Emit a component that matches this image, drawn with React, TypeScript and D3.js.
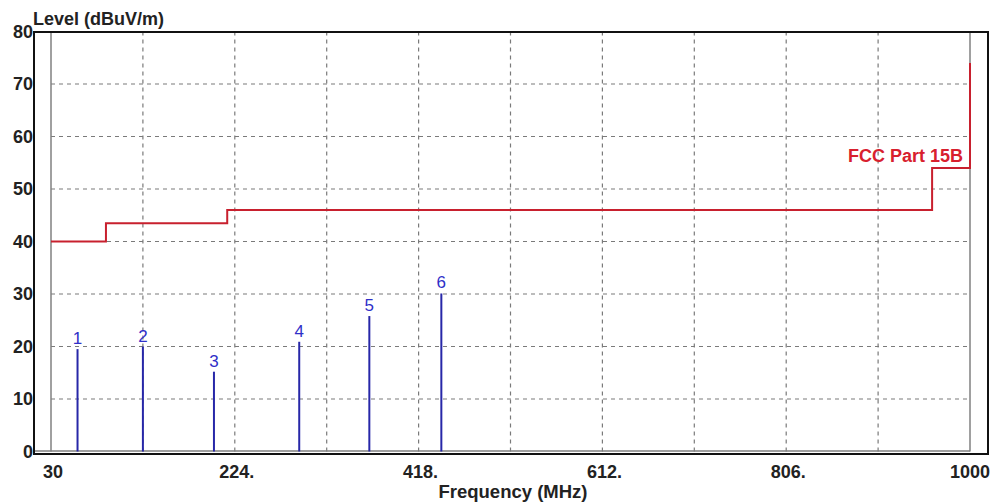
import React from "react";
import * as d3 from "d3";

// limit line (FCC Part 15B), steps as [startFreq, endFreq, level]
const limitSteps: [number, number, number][] = [
  [30, 88, 40],
  [88, 216, 43.5],
  [216, 960, 46],
  [960, 1000, 54],
];
const limitTop = 74;

// peaks found
const peakLabels = ["1", "2", "3", "4", "5", "6"];
const peakFreqs = [58, 127, 202, 292, 366, 442];
const peakLevels = [19.5, 20, 15.2, 20.9, 25.8, 30.1];

const xTickValues = [30, 224, 418, 612, 806, 1000];
const xTickLabels = ["30", "224.", "418.", "612.", "806.", "1000"];
const xGridValues = [127, 224, 321, 418, 515, 612, 709, 806, 903];
const yTickValues = [0, 10, 20, 30, 40, 50, 60, 70, 80];
const yGridValues = [10, 20, 30, 40, 50, 60, 70];

const W = 998;
const H = 502;

export default function App() {
  const x = d3.scaleLinear().domain([30, 1000]).range([51, 970]);
  const y = d3.scaleLinear().domain([0, 80]).range([451.5, 31.5]);

  // build the step path
  const pts: [number, number][] = [];
  limitSteps.forEach(([f0, f1, lv]) => {
    pts.push([f0, lv]);
    pts.push([f1, lv]);
  });
  pts.push([1000, limitTop]);
  const limitPath = d3
    .line<[number, number]>()
    .x((d) => x(d[0]))
    .y((d) => y(d[1]))(pts);

  const font = "'Liberation Sans', Arial, sans-serif";

  return (
    <svg
      width={W}
      height={H}
      style={{ position: "absolute", left: 0, top: 0, background: "#fff" }}
      fontFamily={font}
    >
      {/* grid */}
      <g stroke="#7a7a7a" strokeWidth={1.2} strokeDasharray="4,4">
        {xGridValues.map((v) => (
          <line key={"gx" + v} x1={x(v)} x2={x(v)} y1={y(80)} y2={y(0)} />
        ))}
        {yGridValues.map((v) => (
          <line key={"gy" + v} x1={x(30)} x2={x(1000)} y1={y(v)} y2={y(v)} />
        ))}
      </g>

      {/* inner grey box */}
      <g stroke="#808080" strokeWidth={1.5} fill="none">
        <line x1={x(30)} x2={x(30)} y1={32} y2={y(0)} />
        <line x1={x(1000)} x2={x(1000)} y1={32} y2={y(0)} />
        <line x1={34} x2={x(1000)} y1={y(0) - 0.5} y2={y(0) - 0.5} />
      </g>

      {/* limit line */}
      <path d={limitPath ?? ""} fill="none" stroke="#c8202e" strokeWidth={2} />
      <text
        x={963}
        y={162}
        textAnchor="end"
        fill="#d8202e"
        fontSize={18}
        fontWeight="bold"
      >
        FCC Part 15B
      </text>

      {/* peaks */}
      <g>
        {peakFreqs.map((f, i) => (
          <g key={"p" + i}>
            <line
              x1={x(f)}
              x2={x(f)}
              y1={y(0)}
              y2={y(peakLevels[i])}
              stroke="#2727a8"
              strokeWidth={2}
            />
            <text
              x={x(f)}
              y={y(peakLevels[i]) - 5}
              textAnchor="middle"
              fill="#2f2fc8"
              fontSize={17}
            >
              {peakLabels[i]}
            </text>
          </g>
        ))}
      </g>

      {/* outer frame */}
      <rect x={34} y={32} width={954} height={422} fill="none" stroke="#111" strokeWidth={2} />

      {/* y axis labels */}
      <g fontSize={18} fontWeight="bold" fill="#222" textAnchor="end">
        {yTickValues.map((v) => (
          <text key={"yt" + v} x={33} y={y(v) + 6}>
            {v}
          </text>
        ))}
      </g>
      <text x={33} y={25} fontSize={18} fontWeight="bold" fill="#222">
        Level (dBuV/m)
      </text>

      {/* x axis labels */}
      <g fontSize={18} fontWeight="bold" fill="#222" textAnchor="middle">
        {xTickValues.map((v, i) => (
          <text key={"xt" + v} x={x(v) + (i === xTickValues.length - 1 ? 0 : 2)} y={478}>
            {xTickLabels[i]}
          </text>
        ))}
      </g>
      <text x={513} y={498} fontSize={18.5} fontWeight="bold" fill="#222" textAnchor="middle">
        Frequency (MHz)
      </text>
    </svg>
  );
}
